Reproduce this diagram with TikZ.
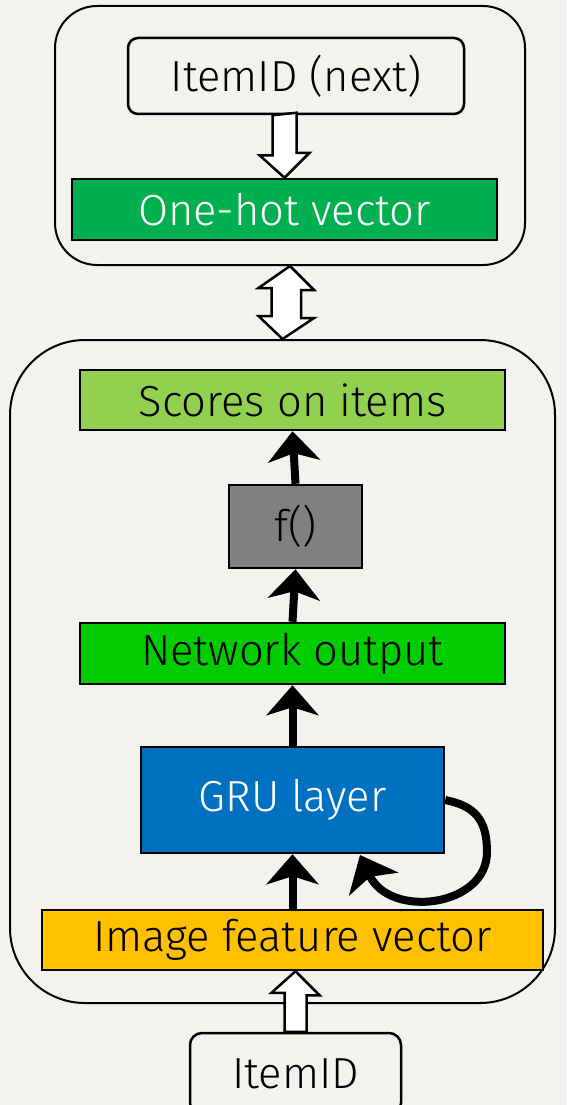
\documentclass[tikz,border=0pt]{standalone}
\usepackage{fontspec}
\setmainfont{Fira Sans}[UprightFont=* Light]
\usetikzlibrary{arrows.meta,calc}
\definecolor{bgcol}{HTML}{F3F2EE}
\definecolor{onehotgreen}{HTML}{00B050}
\definecolor{scoregreen}{HTML}{92D050}
\definecolor{netgreen}{HTML}{00CC00}
\definecolor{grublue}{HTML}{0070C0}
\definecolor{featyellow}{HTML}{FFC000}
\definecolor{fgray}{HTML}{808080}
\begin{document}
\begin{tikzpicture}[x=1pt,y=-1pt,font=\fontsize{43.5}{50}\selectfont,
  frame/.style={draw,line width=2pt,inner sep=0pt},
  box/.style={draw,line width=2.5pt,inner sep=0pt},
  hollow/.style={draw,fill=white,line width=2.5pt,line join=miter},
  up/.style={line width=8pt,-{Stealth[length=30pt,width=52pt,inset=8pt]}}]
\clip(0,0) rectangle(566,1105);
\fill[bgcol](0,0) rectangle(566,1105);
% frames
\node[frame,rounded corners=42pt,minimum width=470,minimum height=259](topframe) at(290,135.5){};
\node[frame,rounded corners=75pt,minimum width=545,minimum height=663](botframe) at(282.5,671.5){};
% next item
\node[box,rounded corners=10pt,minimum width=336,minimum height=76](idnext) at(296,76){ItemID (next)};
\node[box,fill=onehotgreen,text=white,minimum width=425,minimum height=61](onehot) at(284.5,209.5){One-hot vector};
\draw[hollow]($(onehot.north |- idnext.south)+(-12,0)$)--++(0,40)--++(-13,0)--(onehot.north)
  --++(25,-25)--++(-13,0)--++(0,-40)--cycle;
% network
\node[box,fill=scoregreen,minimum width=425,minimum height=60](scores) at(292.5,400){Scores on items};
\node[box,fill=fgray,minimum width=133,minimum height=83](fbox) at(295.5,526.5){f()};
\node[box,fill=netgreen,minimum width=425,minimum height=61](netout) at(292.5,653.5){Network output};
\node[box,fill=grublue,text=white,minimum width=303,minimum height=106](gru) at(292.5,800){GRU layer};
\node[box,fill=featyellow,minimum width=501,minimum height=60](imgfeat) at(292.5,940){Image feature vector};
\node[box,rounded corners=12pt,minimum width=211,minimum height=82](itemid) at(295.5,1074){ItemID};
\draw[up](imgfeat.north)--(gru.south);
\draw[up](gru.north)--(netout.south);
\draw[up](netout.north)--(fbox.south);
\draw[up](fbox.north)--(scores.south);
\coordinate(loopside) at(487,852);
\coordinate(loopend) at(360,855);
\draw[line width=8pt,-{Stealth[length=32pt,width=54pt,inset=8pt]}](gru.east)
  ..controls +(30,6) and +(0,-32)..(loopside)
  ..controls +(0,55) and +(30,64)..(loopend);
% hollow arrows
\draw[hollow](topframe.south)--++(24,24)--++(-13,0)--++(0,28)--++(13,0)--(botframe.north)
  --++(-24,-23)--++(13,0)--++(0,-28)--++(-13,0)--cycle;
\draw[hollow](itemid.north |- imgfeat.south)--++(24,24)--++(-13,0)--(itemid.north -| 306.5,0)
  --++(-22,0)--++(0,-39)--++(-13,0)--cycle;
\end{tikzpicture}
\end{document}
